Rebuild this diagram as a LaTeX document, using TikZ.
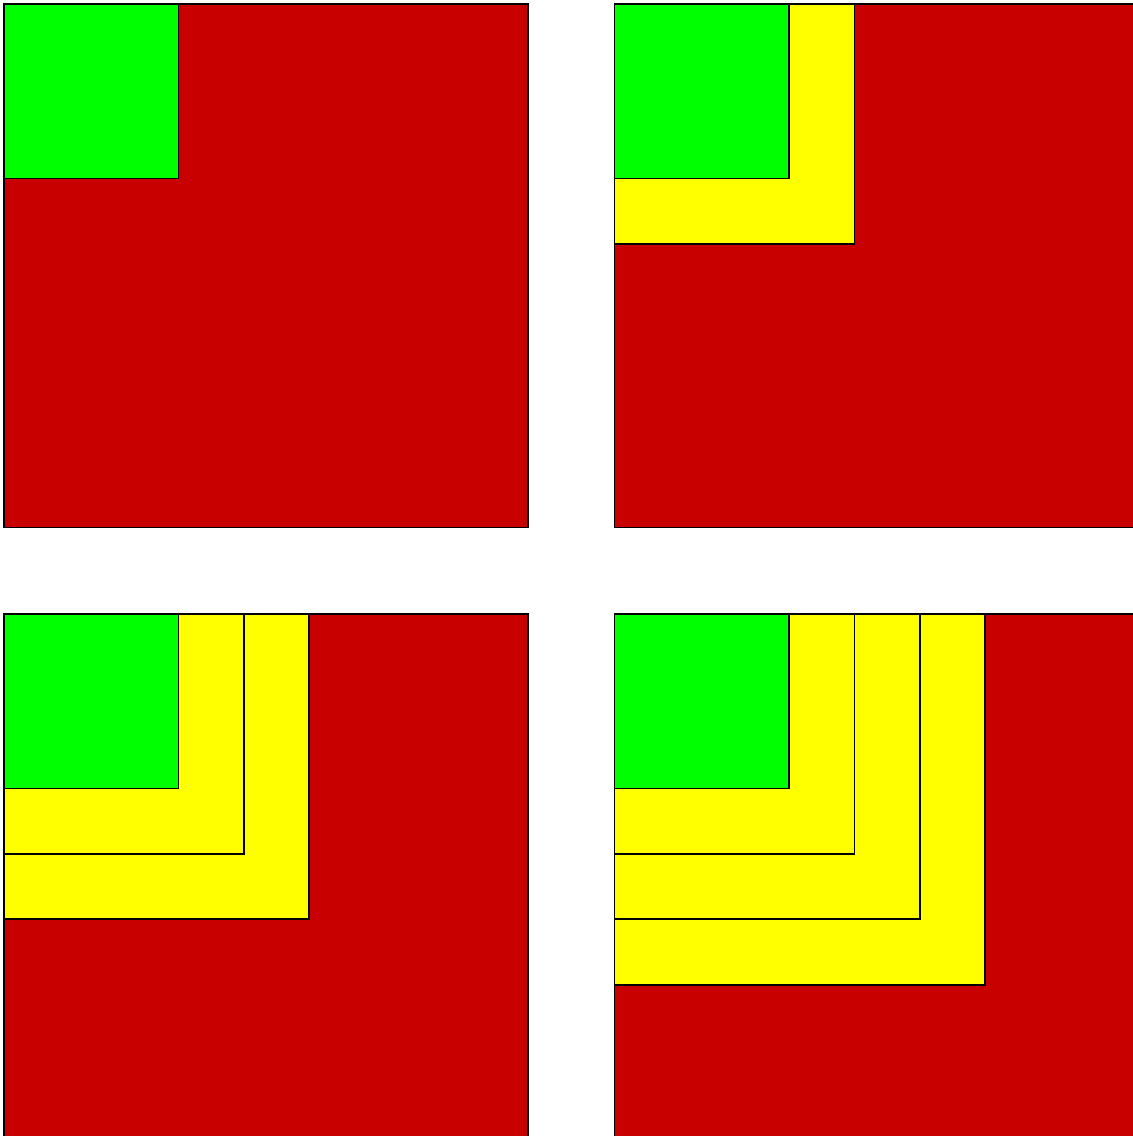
\documentclass[tikz,border=0pt]{standalone}
\usepackage{tikz}
\definecolor{rot}{HTML}{C80000}
\definecolor{gruen}{HTML}{00FF00}
\definecolor{gelb}{HTML}{FFFF00}
\tikzset{
  feld/.style={draw=black,line width=0.5pt},
  rotfeld/.style={feld,fill=rot},
  gelbfeld/.style={feld,fill=gelb},
  gruenfeld/.style={feld,fill=gruen},
}
\begin{document}
\begin{tikzpicture}[x=0.01cm,y=-0.01cm]
  \useasboundingbox (0,0) rectangle (1133,1136);
  \clip (0,0) rectangle (1133,1136);
  % ===== vier Felder: grünes Quadrat mit 0 bis 3 gelben Winkeln =====
  \foreach \px/\py/\n in {4/4/0, 614.5/4/1, 4/614/2, 614.5/614/3}{
    \begin{scope}[shift={(\px,\py)}]
      \draw[rotfeld] (0,0) rectangle (524,523.5);
      \foreach \k in {3,2,1}{
        \ifnum\k>\n\relax\else
          \draw[gelbfeld] (0,0) rectangle ({174.5+\k*65.4},{174.5+\k*65.4});
        \fi}
      \draw[gruenfeld] (0,0) rectangle (174.5,174.5);
    \end{scope}}
\end{tikzpicture}
\end{document}
